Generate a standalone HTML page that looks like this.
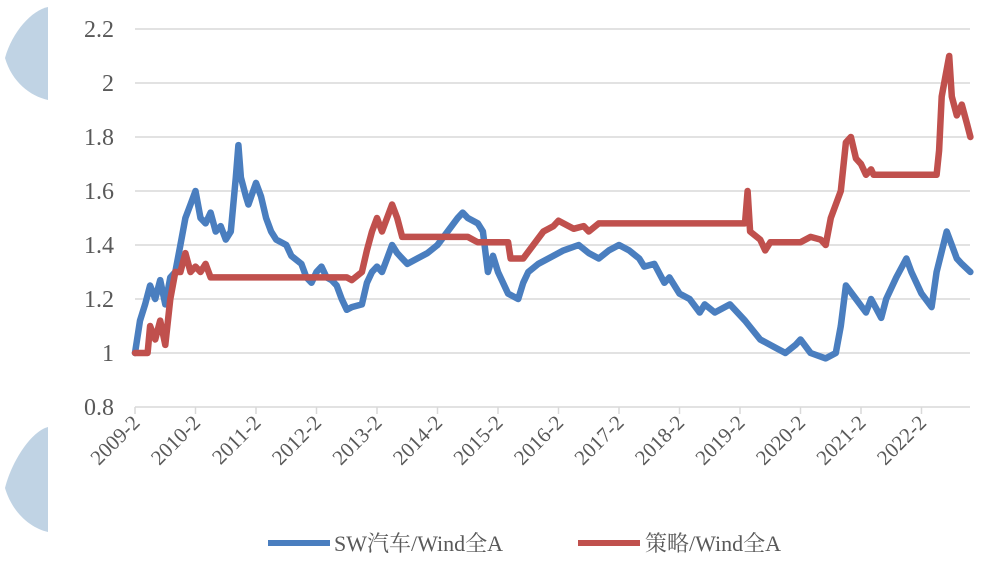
<!DOCTYPE html>
<html><head><meta charset="utf-8"><style>
html,body{margin:0;padding:0;background:#fff;}
svg{display:block;font-family:"Liberation Serif","Noto Serif CJK SC",serif;}
</style></head><body>
<svg id="chart" width="984" height="567" viewBox="0 0 984 567">
  <path d="M48,7 C32,10 12,32 5,58 C12,82 30,96 48,100 Z" fill="#c0d3e4"/>
  <path d="M48,427 C32,431 12,460 5,488 C12,512 30,528 48,532 Z" fill="#c0d3e4"/>
  <g id="grid"></g>
  <g id="yaxis"></g>
  <g id="xaxis"></g>
  <g id="series"></g>
  <g>
    <line x1="268" y1="543" x2="330" y2="543" stroke="#4a7ebf" stroke-width="6"/>
    <text x="334" y="551" font-size="22" fill="#595959">SW汽车/Wind全A</text>
    <line x1="578" y1="543" x2="640" y2="543" stroke="#c0504d" stroke-width="6"/>
    <text x="645" y="551" font-size="22" fill="#595959">策略/Wind全A</text>
  </g>
</svg>
<script>
// month offsets from 2009-02
const xTickLabels = ["2009-2","2010-2","2011-2","2012-2","2013-2","2014-2","2015-2","2016-2","2017-2","2018-2","2019-2","2020-2","2021-2","2022-2"];
const yTicks = [0.8,1,1.2,1.4,1.6,1.8,2,2.2];
const yTickLabels = ["0.8","1","1.2","1.4","1.6","1.8","2","2.2"];
const swMonths = [0,1,2,3,4,5,6,7,8,9,10,11,12,13,14,15,16,17,18,19,20,20.5,21,22,22.5,24,25,26,27,28,30,31,33,34,35,36,37,38,39,40,41,42,43,45,46,47,48,49,50,51,52,53,54,56,58,60,62,64,65,66,68,69,70,71,72,74,76,77,78,80,82,85,88,90,92,94,96,98,100,101,103,105,106,108,110,112,113,115,118,121,124,127,129,131,132,134,137,139,140,141,143,145,146,148,149,151,153,154,156,158,159,161,162,163,164,165.7];
const swValues = [1.0,1.12,1.18,1.25,1.2,1.27,1.18,1.28,1.3,1.4,1.5,1.55,1.6,1.5,1.48,1.52,1.45,1.47,1.42,1.45,1.65,1.77,1.65,1.58,1.55,1.63,1.58,1.5,1.45,1.42,1.4,1.36,1.33,1.28,1.26,1.3,1.32,1.28,1.27,1.25,1.2,1.16,1.17,1.18,1.26,1.3,1.32,1.3,1.35,1.4,1.37,1.35,1.33,1.35,1.37,1.4,1.45,1.5,1.52,1.5,1.48,1.45,1.3,1.36,1.3,1.22,1.2,1.26,1.3,1.33,1.35,1.38,1.4,1.37,1.35,1.38,1.4,1.38,1.35,1.32,1.33,1.26,1.28,1.22,1.2,1.15,1.18,1.15,1.18,1.12,1.05,1.02,1.0,1.03,1.05,1.0,0.98,1.0,1.1,1.25,1.2,1.15,1.2,1.13,1.2,1.28,1.35,1.3,1.22,1.17,1.3,1.45,1.4,1.35,1.33,1.3];
const stMonths = [0,2.5,3,4,5,6,7,8,9,10,11,12,13,14,15,42,43,45,46,47,48,49,51,52,53,66,67,68,74,74.5,77,79,81,83,84,87,89,90,92,121,121.5,122,124,125,126,132,134,136,137,138,140,141,142,143,144,145,146,146.5,159,159.5,160,161,161.5,162,163,164,165,165.7];
const stValues = [1.0,1.0,1.1,1.05,1.12,1.03,1.2,1.3,1.3,1.37,1.3,1.32,1.3,1.33,1.28,1.28,1.27,1.3,1.38,1.45,1.5,1.45,1.55,1.5,1.43,1.43,1.42,1.41,1.41,1.35,1.35,1.4,1.45,1.47,1.49,1.46,1.47,1.45,1.48,1.48,1.6,1.45,1.42,1.38,1.41,1.41,1.43,1.42,1.4,1.5,1.6,1.78,1.8,1.72,1.7,1.66,1.68,1.66,1.66,1.75,1.95,2.05,2.1,1.95,1.88,1.92,1.85,1.8];

const NS="http://www.w3.org/2000/svg";
const X0=135, PX_PER_MONTH=60.5/12, XEND=970;
const xScale=m=>X0+m*PX_PER_MONTH;
const yScale=v=>353-(v-1)*270;
function mk(tag,attrs,parent){const e=document.createElementNS(NS,tag);for(const k in attrs)e.setAttribute(k,attrs[k]);parent.appendChild(e);return e;}
const grid=document.getElementById('grid'),yaxis=document.getElementById('yaxis'),xaxis=document.getElementById('xaxis'),series=document.getElementById('series');
yTicks.forEach((v,i)=>{
  if(v!==0.8){const g=mk('line',{x1:X0,x2:XEND,y1:yScale(v),y2:yScale(v),stroke:'#d9d9d9','stroke-width':1.5},grid);
  
  }
  const t=mk('text',{x:114,y:yScale(v)+8,'text-anchor':'end','font-size':24,fill:'#595959'},yaxis);
  t.textContent=yTickLabels[i];
  
  
});
const ax=mk('line',{x1:X0,x2:XEND,y1:yScale(0.8),y2:yScale(0.8),stroke:'#d9d9d9','stroke-width':1.5},xaxis);


xTickLabels.forEach((lab,i)=>{
  const x=xScale(i*12);
  const tk=mk('line',{x1:x,x2:x,y1:407,y2:414,stroke:'#d9d9d9','stroke-width':1.5},xaxis);
  
  
  const t=mk('text',{x:x+6,y:424,'text-anchor':'end','font-size':21,fill:'#595959',transform:`rotate(-45 ${x+6} 424)`},xaxis);
  t.textContent=lab;
  
  
});
function line(ms,vs){return ms.map((m,i)=>(i?'L':'M')+xScale(m).toFixed(1)+','+yScale(vs[i]).toFixed(1)).join(' ');}
const p1=mk('path',{d:line(swMonths,swValues),fill:'none',stroke:'#4a7ebf','stroke-width':6.5,'stroke-linejoin':'round','stroke-linecap':'round'},series);


const p2=mk('path',{d:line(stMonths,stValues),fill:'none',stroke:'#c0504d','stroke-width':6.5,'stroke-linejoin':'round','stroke-linecap':'round'},series);


</script>
</body></html>
